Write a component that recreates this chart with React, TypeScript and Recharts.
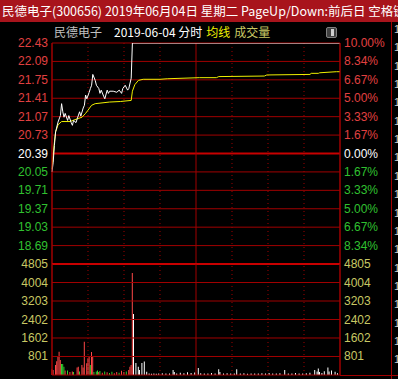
import React from "react";
import {
  ComposedChart,
  Line,
  Bar,
  Cell,
  XAxis,
  YAxis,
  ReferenceLine,
} from "recharts";

const titleText = "民德电子(300656) 2019年06月04日 星期二 PageUp/Down:前后日 空格键";
const stockName = "民德电子";
const dayText = "2019-06-04 分时";
const avgText = "均线";
const volText = "成交量";

const prevClose = 20.39;
const priceDomain = [18.35, 22.43];
const priceTicks = [22.43, 22.09, 21.75, 21.41, 21.07, 20.73, 20.39, 20.05, 19.71, 19.37, 19.03, 18.69];
const volDomain = [0, 4805];
const volTicks = [801, 1602, 2402, 3203, 4004, 4805];
const timeTicks = [0, 30, 60, 90, 120, 150, 180, 210, 240];

// [minute, price]
const priceLine: [number, number][] = [
  [0, 20.05], [1, 20.23], [2, 20.54], [3, 20.79], [5, 20.97], [7, 21.09], [8, 21.31],
  [9, 21.16], [10, 21.06], [11, 21.13], [13, 21.0], [14, 21.09], [16, 20.96], [17, 20.91],
  [18, 21.0], [20, 20.96], [21, 21.03], [23, 21.16], [24, 21.08], [26, 21.23], [27, 21.28],
  [28, 21.47], [29, 21.4], [31, 21.52], [32, 21.59], [33, 21.65], [34, 21.85], [36, 21.74],
  [37, 21.65], [39, 21.59], [40, 21.5], [41, 21.56], [43, 21.45], [44, 21.4], [46, 21.56],
  [47, 21.5], [48, 21.54], [51, 21.54], [54, 21.52], [56, 21.56], [58, 21.5], [59, 21.59],
  [61, 21.65], [63, 21.56], [64, 21.59], [66, 21.78], [67, 22.43], [240, 22.43],
];

// [minute, average price]
const avgLine: [number, number][] = [
  [0, 20.1], [1, 20.35], [2, 20.6], [3, 20.79], [4, 20.85], [5, 20.92], [8, 20.98],
  [15, 20.98], [21, 21.03], [25, 21.06], [28, 21.13], [30, 21.19], [33, 21.28], [36, 21.31],
  [40, 21.32], [48, 21.34], [57, 21.35], [66, 21.37], [67, 21.54], [69, 21.66], [72, 21.74],
  [76, 21.76], [90, 21.76], [96, 21.77], [123, 21.79], [137, 21.79], [139, 21.81],
  [177, 21.82], [179, 21.84], [215, 21.85], [216, 21.87], [222, 21.87], [223, 21.88],
  [237, 21.9], [240, 21.9],
];

// [minute, volume, direction] u = up, d = down, f = flat
const volumes: [number, number, string][] = [
  [0, 250, "u"], [1, 220, "u"], [3, 430, "u"], [4, 600, "u"], [5, 790, "u"], [6, 1010, "u"],
  [7, 650, "u"], [8, 480, "d"], [9, 480, "d"], [10, 360, "d"], [11, 200, "u"], [13, 200, "d"],
  [15, 130, "u"], [17, 150, "u"], [18, 130, "d"], [21, 320, "u"], [22, 360, "u"], [23, 150, "d"],
  [25, 430, "u"], [26, 320, "u"], [27, 1440, "u"], [29, 505, "u"], [30, 720, "u"], [31, 790, "u"],
  [32, 430, "d"], [33, 1000, "u"], [34, 800, "u"], [35, 130, "d"], [37, 150, "d"], [38, 200, "d"],
  [39, 130, "u"], [40, 170, "d"], [42, 100, "u"], [44, 150, "d"], [46, 120, "u"], [48, 90, "d"],
  [50, 140, "d"], [52, 80, "u"], [54, 130, "u"], [56, 100, "d"], [58, 180, "u"], [60, 130, "u"],
  [62, 150, "d"], [64, 220, "u"], [65, 360, "u"], [66, 430, "u"], [67, 4420, "u"], [68, 2640, "f"],
  [70, 520, "f"], [72, 360, "f"], [73, 220, "f"], [75, 520, "f"], [77, 580, "f"], [79, 140, "f"],
  [81, 60, "f"], [83, 50, "f"], [85, 70, "f"], [87, 50, "f"], [89, 60, "f"], [92, 80, "f"],
  [95, 60, "f"], [98, 70, "f"], [101, 220, "f"], [102, 130, "f"], [104, 70, "f"], [107, 100, "f"],
  [110, 80, "f"], [113, 120, "f"], [116, 90, "f"], [119, 110, "f"], [122, 300, "f"], [124, 80, "f"],
  [127, 60, "f"], [130, 70, "f"], [133, 90, "f"], [136, 60, "f"], [139, 250, "f"], [140, 130, "f"],
  [143, 60, "f"], [146, 80, "f"], [149, 60, "f"], [152, 70, "f"], [154, 250, "f"], [157, 60, "f"],
  [160, 80, "f"], [163, 50, "f"], [166, 70, "f"], [169, 60, "f"], [172, 70, "f"], [175, 80, "f"],
  [178, 60, "f"], [181, 90, "f"], [184, 70, "f"], [187, 60, "f"], [190, 80, "f"], [194, 215, "f"],
  [197, 70, "f"], [200, 60, "f"], [203, 90, "f"], [206, 70, "f"], [209, 60, "f"], [212, 80, "f"],
  [215, 100, "f"], [219, 220, "f"], [221, 150, "f"], [222, 285, "f"], [223, 130, "f"], [225, 90, "f"],
  [227, 160, "f"], [230, 330, "f"], [231, 150, "f"], [233, 200, "f"], [236, 140, "f"], [238, 80, "f"],
];

const GRID = "#a00000";
const GRID_BOLD = "#c80000";
const RED = "#e04040";
const GREEN = "#30c030";
const OLIVE = "#c8c864";
const FONT = "'Liberation Sans', Arial, sans-serif";
const CJK = "'Noto Sans CJK SC', sans-serif";

const dirColor: Record<string, string> = { u: "#ff4848", d: "#30d030", f: "#ffffff" };

const priceMap = new Map(priceLine);
const avgMap = new Map(avgLine);
const lineData = Array.from(new Set([...priceLine.map((p) => p[0]), ...avgLine.map((p) => p[0])]))
  .sort((a, b) => a - b)
  .map((t) => ({ t, price: priceMap.get(t), avg: avgMap.get(t) }));

const volData = volumes.map(([t, v, dir]) => ({ t, v, dir }));

const priceColor = (v: number) =>
  Math.abs(v - prevClose) < 0.001 ? "#ffffff" : v > prevClose ? RED : GREEN;

const PriceTick = (props: any) => {
  const v = props.payload.value as number;
  return (
    <text x={props.x} y={props.y} dy={4} textAnchor="end" fill={priceColor(v)} fontSize={12} fontFamily={FONT}>
      {v.toFixed(2)}
    </text>
  );
};

const PctTick = (props: any) => {
  const v = props.payload.value as number;
  const pct = (Math.abs(v - prevClose) / prevClose) * 100;
  return (
    <text x={props.x} y={props.y} dy={4} textAnchor="start" fill={priceColor(v)} fontSize={12} fontFamily={FONT}>
      {pct.toFixed(2) + "%"}
    </text>
  );
};

const VolTick = (props: any) => (
  <text
    x={props.x}
    y={props.y}
    dy={4}
    textAnchor={props.orientation === "right" ? "start" : "end"}
    fill={OLIVE}
    fontSize={12}
    fontFamily={FONT}
  >
    {props.payload.value}
  </text>
);

const verticalLines = (axisId: string) =>
  timeTicks.map((t) => (
    <ReferenceLine
      key={"v" + t}
      x={t}
      yAxisId={axisId}
      stroke={GRID}
      strokeDasharray={t % 120 === 0 ? undefined : "1 3"}
    />
  ));

export default function App() {
  return (
    <div
      style={{
        position: "absolute",
        left: 0,
        top: 0,
        width: 398,
        height: 379,
        background: "#000",
        overflow: "hidden",
      }}
    >
      <div
        style={{
          position: "absolute",
          left: 0,
          top: 0,
          width: 398,
          height: 22,
          background: "#a8141c",
          color: "#fff",
          fontFamily: CJK,
          fontSize: 12.5,
          lineHeight: "22px",
          paddingLeft: 2,
          whiteSpace: "nowrap",
          overflow: "hidden",
        }}
      >
        {titleText}
      </div>

      <div
        style={{
          position: "absolute",
          left: 54,
          top: 24,
          fontFamily: CJK,
          fontSize: 12,
          lineHeight: "16px",
          whiteSpace: "nowrap",
        }}
      >
        <span style={{ color: "#c0c0c0" }}>{stockName}</span>
        <span style={{ color: "#ffffff", marginLeft: 12 }}>{dayText}</span>
        <span style={{ color: "#f0f000", marginLeft: 4 }}>{avgText}</span>
        <span style={{ color: "#c8c864", marginLeft: 4 }}>{volText}</span>
      </div>

      <div
        style={{
          position: "absolute",
          left: 326,
          top: 27,
          width: 9,
          height: 9,
          border: "1px solid #808080",
          borderRadius: 2,
          background: "#404040",
        }}
      >
        <div style={{ position: "absolute", left: 4, top: 1, width: 3, height: 7, background: "#d0d0d0" }} />
      </div>

      <div style={{ position: "absolute", left: 0, top: 33 }}>
        <ComposedChart width={398} height={241} data={lineData} margin={{ top: 10, right: 0, bottom: 10, left: 0 }}>
          <XAxis type="number" dataKey="t" domain={[0, 240]} hide />
          <YAxis
            yAxisId="left"
            domain={priceDomain}
            ticks={priceTicks}
            interval={0}
            width={52}
            tickSize={0}
            tickMargin={4}
            tickLine={false}
            axisLine={{ stroke: GRID }}
            tick={PriceTick}
            allowDataOverflow
          />
          <YAxis
            yAxisId="right"
            orientation="right"
            domain={priceDomain}
            ticks={priceTicks}
            interval={0}
            width={58}
            tickSize={0}
            tickMargin={4}
            tickLine={false}
            axisLine={{ stroke: GRID }}
            tick={PctTick}
            allowDataOverflow
          />
          {priceTicks.map((v) => (
            <ReferenceLine
              key={"h" + v}
              yAxisId="left"
              y={v}
              stroke={v === prevClose ? GRID_BOLD : GRID}
              strokeWidth={v === prevClose ? 2 : 1}
            />
          ))}
          {verticalLines("left")}
          <Line
            yAxisId="right"
            type="linear"
            dataKey="avg"
            stroke="#f0f000"
            strokeWidth={1}
            dot={false}
            connectNulls
            isAnimationActive={false}
          />
          <Line
            yAxisId="left"
            type="linear"
            dataKey="price"
            stroke="#ffffff"
            strokeWidth={1}
            dot={false}
            connectNulls
            isAnimationActive={false}
          />
        </ComposedChart>
      </div>

      <div style={{ position: "absolute", left: 0, top: 254 }}>
        <ComposedChart width={398} height={125} data={volData} margin={{ top: 10, right: 0, bottom: 4, left: 0 }}>
          <XAxis type="number" dataKey="t" domain={[0, 240]} hide />
          <YAxis
            yAxisId="left"
            domain={volDomain}
            ticks={volTicks}
            interval={0}
            width={52}
            tickSize={0}
            tickMargin={4}
            tickLine={false}
            axisLine={{ stroke: GRID }}
            tick={VolTick}
            allowDataOverflow
          />
          <YAxis
            yAxisId="right"
            orientation="right"
            domain={volDomain}
            ticks={volTicks}
            interval={0}
            width={58}
            tickSize={0}
            tickMargin={4}
            tickLine={false}
            axisLine={{ stroke: GRID }}
            tick={(p: any) => <VolTick {...p} orientation="right" />}
            allowDataOverflow
          />
          {volTicks.map((v) => (
            <ReferenceLine
              key={"h" + v}
              yAxisId="left"
              y={v}
              stroke={v === 4805 ? GRID_BOLD : GRID}
              strokeWidth={v === 4805 ? 2 : 1}
            />
          ))}
          <ReferenceLine yAxisId="left" y={0} stroke={GRID} />
          {verticalLines("left")}
          <Bar yAxisId="left" dataKey="v" barSize={1} isAnimationActive={false}>
            {volData.map((d, i) => (
              <Cell key={i} fill={dirColor[d.dir]} />
            ))}
          </Bar>
        </ComposedChart>
      </div>

      <div style={{ position: "absolute", left: 340, top: 375, width: 58, height: 1, background: GRID }} />
      <div style={{ position: "absolute", left: 391, top: 22, width: 1, height: 357, background: GRID }} />
      {Array.from({ length: 19 }, (_, i) => (
        <div
          key={i}
          style={{
            position: "absolute",
            left: 394,
            top: 23 + i * 18.35,
            color: "#d0d0d0",
            fontFamily: FONT,
            fontSize: 11,
            lineHeight: "12px",
          }}
        >
          1
        </div>
      ))}
    </div>
  );
}
